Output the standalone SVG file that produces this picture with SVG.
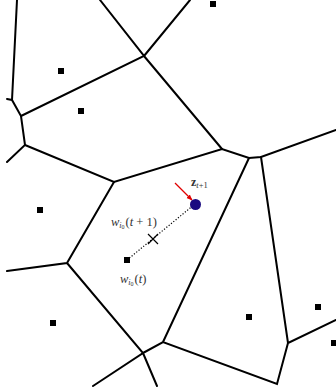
<svg xmlns="http://www.w3.org/2000/svg" width="336" height="391" viewBox="0 0 336 391">
<defs>
<style>
.e{stroke:#000;stroke-width:2;fill:none;stroke-linecap:round}
.s{fill:#000}
.t{font-family:"Liberation Serif",serif;fill:#333}
</style>
<marker id="ah" viewBox="0 0 10 10" refX="9" refY="5" markerWidth="5" markerHeight="5" orient="auto"><path d="M0,1 L10,5 L0,9 z" fill="#e00000"/></marker>
</defs>
<rect width="336" height="391" fill="#fff"/>
<g id="edges">
<path class="e" d="M17,0 L12,100 M7,99 L12,100 L21,116 L25,145 L7,162 M25,145 L114,182 L222,149 L249,158 L261,157 L336,130"/>
<path class="e" d="M21,116 L144,56 L100,0 M144,56 L190,0 M144,56 L222,149"/>
<path class="e" d="M114,182 L67,263 L7,271 M67,263 L143,353 L93,386 M143,353 L157,386 M143,353 L163,342 L277,384 L288,343 L336,320 M163,342 L249,158 M261,157 L288,343"/>
</g>
<g id="sites">
<rect class="s" x="58" y="68" width="6" height="6"/>
<rect class="s" x="78" y="108" width="6" height="6"/>
<rect class="s" x="210" y="1" width="6" height="6"/>
<rect class="s" x="37" y="207" width="6" height="6"/>
<rect class="s" x="50" y="320" width="6" height="6"/>
<rect class="s" x="124" y="257" width="6" height="6"/>
<rect class="s" x="246" y="314" width="6" height="6"/>
<rect class="s" x="315" y="304" width="6" height="6"/>
<rect class="s" x="331" y="340" width="6" height="6"/>
</g>
<g id="update">
<line x1="127" y1="260" x2="195" y2="204" stroke="#000" stroke-width="1.2" stroke-dasharray="1.2,1.8"/>
<path d="M148,234 L158,244 M158,234 L148,244" stroke="#000" stroke-width="1.2"/>
<line x1="175" y1="183" x2="192" y2="200" stroke="#e00000" stroke-width="1.2" marker-end="url(#ah)"/>
<circle cx="195.5" cy="204.5" r="5.5" fill="#1a0a80"/>
</g>
<g id="labels">
<text class="t" x="191" y="186" font-size="12"><tspan font-weight="bold">z</tspan><tspan font-size="8.5" dy="2" font-style="italic">t</tspan><tspan font-size="8.5">+1</tspan></text>
<text class="t" x="111" y="226" font-size="12.5"><tspan font-style="italic">w</tspan><tspan font-size="8" font-style="italic" dy="2">i</tspan><tspan font-size="6" dy="1">0</tspan><tspan dy="-3" dx="1">(</tspan><tspan font-style="italic">t</tspan> + 1)</text>
<text class="t" x="120" y="283" font-size="12.5"><tspan font-style="italic">w</tspan><tspan font-size="8" font-style="italic" dy="2">i</tspan><tspan font-size="6" dy="1">0</tspan><tspan dy="-3" dx="1">(</tspan><tspan font-style="italic">t</tspan>)</text>
</g>
</svg>
